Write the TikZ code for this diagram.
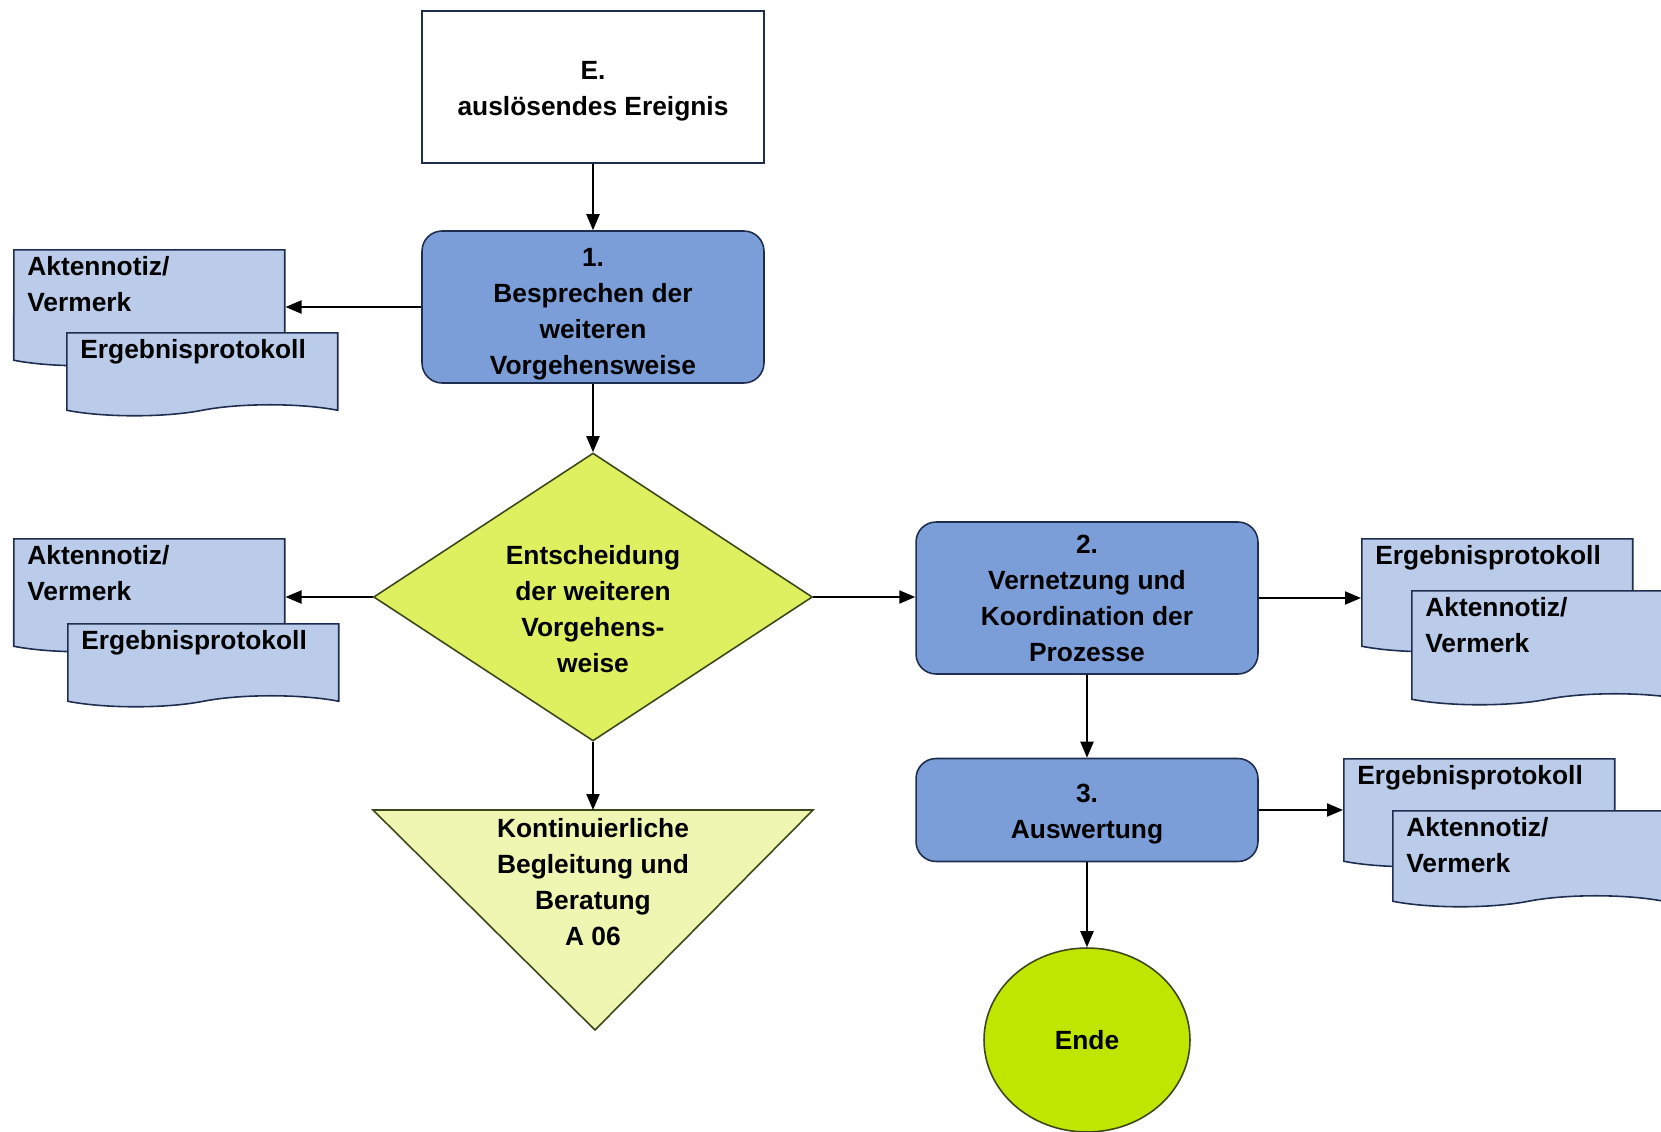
\documentclass[tikz,border=0pt]{standalone}
\usepackage{fontspec}
\setmainfont{Liberation Sans}
\usetikzlibrary{shapes.geometric, shapes.symbols, arrows.meta, positioning}

\definecolor{boxblue}{RGB}{124,158,216}
\definecolor{boxline}{RGB}{30,45,80}
\definecolor{docblue}{RGB}{186,204,234}
\definecolor{decgreen}{RGB}{222,240,96}
\definecolor{decline}{RGB}{60,72,25}
\definecolor{triyellow}{RGB}{238,246,178}
\definecolor{endgreen}{RGB}{190,230,0}

\begin{document}
\begin{tikzpicture}[x=0.02cm, y=-0.02cm, font=\fontsize{15}{20.5}\selectfont\bfseries,
    >={Triangle[length=0.32cm, width=0.26cm]},
    stepbox/.style={draw=boxline, line width=0.9pt, fill=boxblue, rounded corners=0.4cm, minimum width=6.84cm, minimum height=3.04cm, align=center},
    docu/.style={shape=tape, tape bend top=none, tape bend bottom=in and out, tape bend height=0.22cm, draw=boxline, line width=0.9pt, fill=docblue, minimum width=5.42cm, anchor=north west, inner sep=0pt},
    doctext/.style={anchor=north west, inner sep=0pt, xshift=0.28cm, yshift=-0.14cm, align=left}]
    \useasboundingbox (0,0) rectangle (1661,1132);

    \node[draw=boxline, line width=0.9pt, fill=white, minimum width=6.84cm, minimum height=3.04cm, align=center, text height=36pt] (ereignis) at (593,87) {E.\\auslösendes Ereignis};
    \node[stepbox, inner ysep=0pt, text height=80pt] (bespr) at (593,307) {1.\\Besprechen der\\weiteren\\Vorgehensweise};
    \node[shape=diamond, shape aspect=1.5, draw=decline, line width=0.9pt, fill=decgreen, minimum width=8.78cm, minimum height=5.76cm, inner sep=0pt, align=center, text height=86pt] (entsch) at (593,597) {Entscheidung\\der weiteren\\Vorgehens-\\weise};
    \draw[draw=decline, line width=0.9pt, fill=triyellow] (373,810) -- (813,810) -- (595,1030) -- cycle;
    \coordinate (tribase) at (593,810);
    \node[align=center] (begleit) at (593,882) {Kontinuierliche\\Begleitung und\\Beratung\\A 06};
    \node[stepbox] (vernetz) at (1087,598) {2.\\Vernetzung und\\Koordination der\\Prozesse};
    \node[stepbox, minimum height=2.06cm, text height=36pt] (auswert) at (1087,810) {3.\\Auswertung};
    \node[shape=ellipse, draw=decline, line width=0.9pt, fill=endgreen, minimum width=4.12cm, minimum height=3.68cm] (ende) at (1087,1040) {Ende};

    \node[docu, minimum height=2.32cm, label={[doctext]north west:Aktennotiz/\\Vermerk}] (notiz1) at (13,249) {};
    \node[docu, minimum height=1.66cm, label={[doctext]north west:Ergebnisprotokoll}] (protokoll1) at (66,332) {};
    \node[docu, minimum height=2.26cm, label={[doctext]north west:Aktennotiz/\\Vermerk}] (notiz2) at (13,538) {};
    \node[docu, minimum height=1.66cm, label={[doctext]north west:Ergebnisprotokoll}] (protokoll2) at (67,623) {};
    \node[docu, minimum height=2.26cm, label={[doctext]north west:Ergebnisprotokoll}] (protokoll3) at (1361,538) {};
    \node[docu, minimum height=2.28cm, label={[doctext]north west:Aktennotiz/\\Vermerk}] (notiz3) at (1411,590) {};
    \node[docu, minimum height=2.16cm, label={[doctext]north west:Ergebnisprotokoll}] (protokoll4) at (1343,758) {};
    \node[docu, minimum height=1.92cm, label={[doctext]north west:Aktennotiz/\\Vermerk}] (notiz4) at (1392,810) {};

    \draw[->, very thick] (ereignis) -- (bespr);
    \draw[->, very thick] (bespr.west) -- (bespr.west -| notiz1.east);
    \draw[->, very thick] (bespr) -- (entsch);
    \draw[->, very thick] (entsch.west) -- (entsch.west -| notiz2.east);
    \draw[->, very thick] (entsch.east) -- (entsch.east -| vernetz.west);
    \draw[->, very thick] (entsch.south) -- (tribase);
    \draw[->, very thick] (vernetz.east) -- (vernetz.east -| protokoll3.west);
    \draw[->, very thick] (vernetz) -- (auswert);
    \draw[->, very thick] (auswert.east) -- (auswert.east -| protokoll4.west);
    \draw[->, very thick] (auswert) -- (ende);
\end{tikzpicture}
\end{document}
